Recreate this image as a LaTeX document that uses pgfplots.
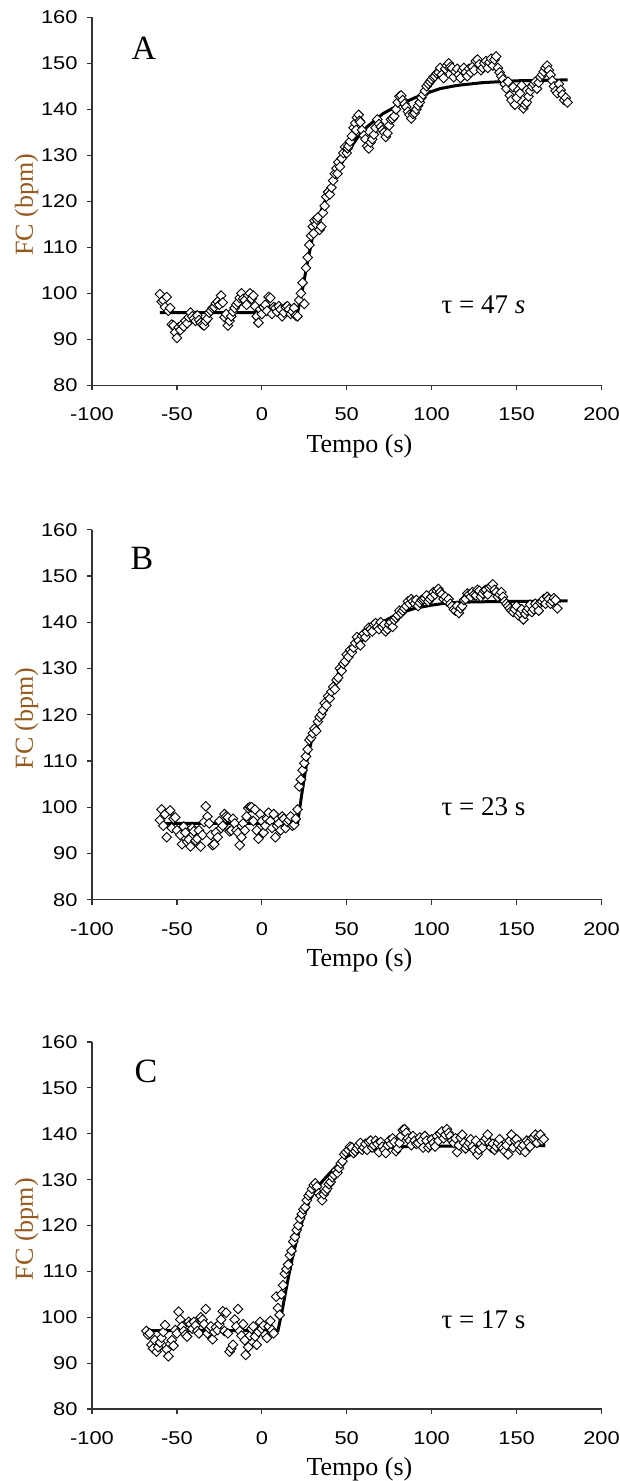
\documentclass[border=0pt]{standalone}
\usepackage{fontspec}
\setmainfont{Liberation Serif}
\newfontfamily\ticksfont{Liberation Sans}[FakeStretch=1.18]
\usepackage{pgfplots}
\pgfplotsset{compat=1.18}
\definecolor{fccol}{RGB}{150,90,30}

\pgfplotsset{
  panel/.style={
    scale only axis, width=509.5pt,
    xmin=-100, xmax=200, ymin=80, ymax=160,
    axis lines=left,
    axis line style={-, line width=1.2pt, color=black!80},
    xtick={-100,-50,0,50,100,150,200}, ytick={80,90,100,110,120,130,140,150,160},
    xticklabels={-100,-50,0,50,100,150,200},
    yticklabels={80,90,100,110,120,130,140,150,160},
    tick align=outside, major tick length=5pt,
    tick style={line width=1.2pt, black!80},
    ticklabel style={font=\ticksfont\fontsize{18.5}{18.5}\selectfont},
    xticklabel style={yshift=-14pt},
    yticklabel style={xshift=-6pt},
    clip=false,
    anchor=south west,
  },
  pts/.style={only marks, mark=square*, mark size=3.4pt,
    mark options={rotate=45, fill=white, draw=black, line width=0.9pt}},
  fit/.style={no marks, line width=3pt, black},
}
\newcommand{\panellabels}[5]{%
  \node[font=\fontsize{26}{26}\selectfont, anchor=base] at ([yshift=-66.7pt]axis description cs:0.525,0) {Tempo (s)};
  \node[font=\fontsize{26}{26}\selectfont, anchor=base, rotate=90, text=fccol] at ([xshift=-59pt]axis description cs:0,0.49) {FC (bpm)};
  \node[font=\fontsize{34}{34}\selectfont, inner sep=0pt] at (axis cs:#1,#2) {#3};
  \node[font=\fontsize{27}{27}\selectfont, inner sep=0pt] at (axis cs:130.5,#4) {#5};
}

\begin{document}
\begin{tikzpicture}
\path[use as bounding box] (0pt,0pt) rectangle (619pt,-1481pt);

% ---------------- Panel A ----------------
\begin{axis}[panel, height=368pt, at={(92pt,-385.3pt)}]
\addplot[pts] coordinates {
(-60,99.8) (-59,98.2) (-58,98.5) (-57,97.0) (-56,99.2) (-55,96.2) (-54,96.8) (-53,93.2) (-52,93.0) (-51,91.5) (-50,90.3)
(-49,92.6) (-48,92.0) (-47,93.2) (-46,92.8) (-45,94.0) (-44,93.5) (-43,94.8) (-42,95.8) (-41,95.0) (-40,94.5) (-39,94.0)
(-38,95.2) (-37,94.2) (-36,93.6) (-35,93.2) (-34,93.0) (-33,94.0) (-32,94.5) (-31,95.8) (-30,96.2) (-29,96.8) (-28,97.0)
(-27,97.8) (-26,98.2) (-25,97.5) (-24,99.5) (-23,98.0) (-22,94.8) (-21,95.5) (-20,93.0) (-19,94.0) (-18,95.0) (-17,96.0)
(-16,96.8) (-15,97.5) (-14,98.0) (-13,99.0) (-12,100.0) (-11,98.8) (-10,98.5) (-9,97.5) (-8,99.6) (-7,100.0)
(-6,98.8) (-5,99.5) (-4,97.2) (-3,95.0) (-2,93.6) (-1,96.5) (0,95.5) (1,97.0) (2,97.5) (3,96.2) (4,99.2) (5,99.0)
(6,95.5) (7,97.0) (8,96.8) (9,96.0) (10,97.2) (11,96.5) (12,95.0) (13,95.8) (14,97.0) (15,97.2) (16,96.5) (17,95.5)
(18,96.0) (19,96.8) (20,95.2) (21,95.0) (22,98.5) (23,100.0) (24,102.3) (25,97.7) (26,105.5) (27,107.8) (28,110.5)
(29,112.5) (30,114.5) (30.5,113.0) (31,115.8) (32,115.0) (32.5,116.0) (33,116.5) (34,113.8) (35,114.5) (36,117.5)
(37,119.0) (38,121.0) (39,122.0) (40,121.5) (41,123.0) (42,124.5) (43,126.0) (44,127.2) (44.5,126.0) (45,128.5)
(46,127.5) (47,129.3) (48,130.5) (49,131.8) (50,130.5) (50.5,131.5) (51,132.0) (52,133.0) (53,134.2) (54,136.0)
(55,137.0) (55.5,135.5) (56,138.2) (57,138.8) (57.5,137.5) (58,137.2) (59,135.5) (60,134.3) (61,133.5) (62,132.0)
(63,131.5) (64,132.8) (65,133.5) (66,134.5) (67,136.0) (68,137.8) (69,136.8) (70,136.2) (71,135.5) (72,135.0)
(73,134.0) (74,134.8) (75,136.5) (76,137.8) (77,138.0) (78,138.5) (79,140.0) (80,141.5) (81,142.8) (82,143.0)
(83,142.0) (84,141.2) (85,140.5) (86,139.5) (87,138.8) (88,138.0) (89,139.0) (90,139.2) (91,140.0) (92,140.8)
(93,141.5) (94,142.5) (95,143.2) (96,144.0) (97,145.0) (98,145.5) (99,146.0) (100,146.5) (101,147.0) (102,147.2)
(103,147.8) (104,148.0) (105,149.0) (106,147.5) (107,146.8) (108,148.8) (109,149.5) (110,150.0) (111,149.2)
(112,149.0) (113,147.0) (114,148.2) (115,148.8) (116,147.5) (117,146.8) (118,148.5) (119,149.0) (120,148.0)
(121,147.2) (122,148.8) (123,148.0) (124,149.2) (125,148.5) (126,150.5) (127,150.8) (128,149.8) (129,148.5)
(130,149.0) (131,150.0) (132,150.5) (133,149.0) (134,150.2) (135,151.0) (136,149.5) (137,150.8) (138,151.5)
(139,149.0) (140,148.0) (141,147.2) (142,146.5) (143,145.5) (144,144.5) (145,146.0) (146,143.0) (147,142.0)
(148,144.8) (149,141.0) (150,142.5) (151,144.2) (152,143.5) (153,145.2) (154,140.2) (155,141.0) (156,141.5)
(157,142.8) (158,144.0) (159,145.0) (160,145.5) (161,146.0) (162,144.5) (163,145.8) (164,147.0) (165,147.5)
(166,148.2) (167,149.0) (168,149.5) (169,148.5) (170,147.5) (171,146.2) (172,145.0) (173,144.0) (174,143.5)
(175,145.5) (176,144.2) (177,143.2) (178,142.0) (179,142.5) (180,141.5)
};
\addplot[fit] coordinates {
(-60,95.8) (21,95.8) (24,101) (27,107) (30,112.5) (33,116) (36,119) (39,121.5) (42,124.3) (45,126.8) (48,129)
(52,131.5) (56,133.7) (62,136.2) (71.5,139.1) (80,140.8) (90,142.5) (97,143.5) (105,144.5) (115,145.2)
(130,145.8) (150,146.2) (180,146.4)
};
\panellabels{-69.4}{153.3}{A}{97.5}{τ = 47 \textit{s}}
\end{axis}

% ---------------- Panel B ----------------
\begin{axis}[panel, height=370pt, at={(92pt,-899.7pt)}]
\addplot[pts] coordinates {
(-60,97.2) (-59,99.5) (-58,96.0) (-57,98.5) (-56,93.5) (-54,99.3) (-53,95.5) (-52,97.5) (-51,97.8) (-50,95.0)
(-48,94.0) (-47,92.0) (-46,95.8) (-45,94.5) (-44,92.5) (-43,93.0) (-42,91.5) (-41,95.5) (-40,94.8) (-39,92.8)
(-38,93.2) (-37,95.0) (-36,91.5) (-35,94.0) (-34,96.8) (-33,100.2) (-32,98.0) (-31,96.5) (-30,94.0) (-29,91.8)
(-28,92.0) (-27,94.5) (-26,93.5) (-25,97.0) (-24,95.5) (-23,96.0) (-22,98.5) (-21,98.0) (-20,97.8) (-19,94.8)
(-18,95.0) (-17,97.5) (-16,96.5) (-15,95.0) (-14,94.5) (-13,91.8) (-12,93.5) (-11,96.5) (-10,95.0) (-9,98.0)
(-8,99.8) (-7,100.0) (-6,100.0) (-5,97.0) (-4,99.5) (-3,95.0) (-2,93.2) (-1,98.5) (0,97.0) (1,94.5) (2,96.0)
(3,97.5) (4,98.8) (5,97.0) (6,95.5) (7,98.5) (8,93.5) (9,96.0) (10,96.5) (11,95.0) (12,98.0) (13,97.5) (14,95.5)
(15,96.8) (16,97.2) (17,98.0) (18,96.0) (19,96.2) (20,97.5) (21,99.5) (22,104.5) (23,106.0) (24,108.0) (25,109.5)
(26,111.0) (27,112.5) (28,114.5) (29,115.0) (30,116.0) (31,117.0) (32,116.5) (33,118.5) (34,119.5) (35,120.0)
(36,121.0) (37,122.5) (38,122.0) (39,124.0) (40,123.5) (41,125.0) (42,126.0) (43,125.5) (44,127.5) (45,128.0)
(46,130.0) (47,129.5) (48,131.0) (49,131.5) (50,133.0) (51,132.5) (52,134.0) (53,133.5) (54,134.5) (55,135.5)
(56,136.8) (57,136.0) (58,135.0) (59,137.0) (60,137.5) (61,136.8) (62,138.0) (63,138.8) (64,138.5) (65,138.0)
(66,139.5) (67,139.8) (68,139.0) (69,138.5) (70,140.0) (71,139.0) (72,139.5) (73,138.0) (74,138.5) (75,139.5)
(76,140.0) (77,139.0) (78,140.5) (79,141.0) (80,141.5) (81,142.5) (82,142.0) (83,142.5) (84,143.0) (85,143.5)
(86,144.5) (87,144.0) (88,145.0) (89,144.5) (90,144.0) (91,144.8) (92,143.5) (93,144.2) (94,144.8) (95,145.0)
(96,145.2) (97,145.8) (98,144.5) (99,145.0) (100,145.5) (101,146.5) (102,146.0) (103,146.8) (104,147.2)
(105,146.5) (106,146.0) (107,145.0) (108,145.5) (109,144.5) (110,145.0) (111,144.0) (112,143.5) (113,142.8)
(114,142.5) (115,143.5) (116,142.0) (117,143.0) (118,143.5) (119,144.8) (120,145.0) (121,146.2) (122,146.0)
(123,145.5) (124,146.5) (125,146.0) (126,145.8) (127,147.0) (128,146.8) (129,145.5) (130,146.2) (131,146.8)
(132,147.0) (133,146.0) (134,147.5) (135,147.8) (136,148.2) (137,147.0) (138,146.5) (139,145.5) (140,146.0)
(141,146.5) (142,145.5) (143,144.5) (144,144.0) (145,143.5) (146,143.0) (147,142.5) (148,142.2) (149,142.8)
(150,143.5) (151,141.5) (152,142.0) (153,142.8) (154,140.6) (155,141.8) (156,142.5) (157,143.0) (158,143.8)
(159,142.2) (160,142.8) (161,144.0) (162,143.5) (163,142.5) (164,144.2) (165,144.5) (166,145.0) (167,144.0)
(168,145.5) (169,145.0) (170,144.0) (171,144.5) (172,145.2) (173,144.8) (174,143.0)
};
\addplot[fit] coordinates {
(-60,96.5) (21,96.5) (24,104) (27,111) (30,115.5) (34,120) (38,123.2) (42,126.5) (46,129.7) (50,132) (54,134)
(58,136.2) (64,138.3) (70,139.8) (80,141.8) (90,143) (100,143.7) (110,144.2) (125,144.4) (150,144.5) (180,144.6)
};
\panellabels{-70.6}{153.9}{B}{100.2}{τ = 23 s}
\end{axis}

% ---------------- Panel C ----------------
\begin{axis}[panel, height=367pt, at={(92pt,-1409pt)}]
\addplot[pts] coordinates {
(-68,97.0) (-67,96.2) (-66,96.5) (-65,94.0) (-64,93.2) (-63,95.0) (-62,92.5) (-61,93.5) (-60,94.5) (-59,95.5)
(-58,96.8) (-57,98.3) (-56,93.0) (-55,91.5) (-54,94.2) (-53,95.0) (-52,93.8) (-51,97.2) (-50,96.5) (-49,101.2)
(-48,99.5) (-47,98.0) (-46,97.0) (-45,96.2) (-44,95.8) (-43,99.0) (-42,98.5) (-41,97.5) (-40,99.0) (-39,98.2)
(-38,97.0) (-37,96.5) (-36,100.0) (-35,99.5) (-34,98.5) (-33,101.8) (-32,96.5) (-31,97.5) (-30,98.0) (-29,95.2)
(-28,96.8) (-27,97.8) (-26,97.2) (-25,98.5) (-24,99.5) (-23,101.3) (-22,97.0) (-21,101.0) (-20,96.5) (-19,92.5)
(-18,93.2) (-17,94.0) (-16,99.5) (-15,98.0) (-14,101.8) (-13,97.0) (-12,96.0) (-11,98.5) (-10,95.0) (-9.5,91.8)
(-8,93.5) (-7,96.0) (-6,97.5) (-5,98.0) (-4,95.8) (-3,94.0) (-2,96.8) (-1,99.0) (0,97.5) (1,98.2) (2,96.2)
(3,95.5) (4,98.0) (5,99.2) (6,97.2) (7,96.5) (8.5,104.5) (9.5,102.0) (10.5,100.5) (11.5,105.0) (12.5,107.0)
(13.5,109.5) (14.5,110.5) (15.5,111.5) (16.5,113.5) (17.5,114.5) (18.5,116.5) (19.5,117.5) (20.5,119.0)
(21.5,120.0) (22.5,121.5) (23.5,122.5) (24.5,123.5) (25.5,124.0) (26.5,125.5) (27.5,126.5) (28.5,127.0)
(29.5,128.0) (30.5,128.8) (31.5,129.2) (32.5,128.5) (33.5,127.0) (34.5,126.5) (35.5,125.5) (36.5,126.8)
(37.5,127.5) (38.5,128.0) (39.5,129.0) (40.5,129.5) (41.5,130.5) (42.5,131.0) (43.5,132.0) (44.5,131.5)
(45.5,132.5) (46.5,133.5) (47.5,134.0) (48.5,135.5) (49.5,136.0) (51,136.5) (52,137.2) (53,137.0) (54,135.8)
(55,136.2) (56,136.8) (57,137.5) (58,138.0) (59,136.5) (60,137.0) (61,137.8) (62,136.5) (63,138.2) (64,138.5)
(65,137.0) (66,137.5) (67,138.5) (68,137.8) (69,136.0) (70,138.2) (71,137.2) (72,136.5) (73,135.8) (74,137.5)
(75,138.5) (76,137.8) (77,139.0) (78,138.2) (79,136.2) (80,136.8) (81,138.0) (82,139.5) (83,140.8) (84,141.0)
(85,140.2) (86,139.0) (87,138.5) (88,137.5) (89,139.5) (90,138.5) (91,137.8) (92,138.0) (93,139.2) (94,138.5)
(95,137.0) (96,139.5) (97,138.5) (98,137.0) (99,137.5) (100,138.8) (101,138.0) (102,137.2) (103,139.5)
(104,138.5) (105,140.0) (106,140.5) (107,139.0) (108,139.8) (109,141.0) (110,140.2) (111,139.5) (112,138.5)
(113,138.0) (114,139.0) (115,136.0) (116,137.5) (117,139.2) (118,139.8) (119,138.0) (120,136.8) (121,137.5)
(122,138.0) (123,138.8) (124,137.2) (125,136.5) (126,138.5) (127,135.5) (128,136.5) (129,137.8) (130,137.0)
(131,138.5) (132,139.0) (133,139.8) (134,138.0) (135,137.0) (136,137.8) (137,136.5) (138,137.2) (139,138.0)
(140,138.8) (141,137.2) (142,136.8) (143,136.2) (144,137.5) (145,135.5) (146,138.5) (147,139.8) (148,137.0)
(149,138.5) (150,138.8) (151,137.5) (152,136.5) (153,137.0) (154,137.5) (155,136.0) (156,138.5) (157,138.0)
(158,137.2) (159,139.0) (160,139.2) (161,139.8) (162,138.0) (163,139.5) (164,139.8) (165,138.5) (166,138.8)
};
\addplot[fit] coordinates {
(-68.5,97.1) (9.5,97.1) (12,101.5) (15,107.5) (18,113) (21,117.5) (24,121.2) (28,125.5) (32,128) (36,129.8)
(40,131.4) (45,133.3) (50,135) (55,136) (60,136.5) (70,136.9) (85,137.2) (110,137.3) (167,137.4)
};
\panellabels{-68.2}{153.6}{C}{99.5}{τ = 17 s}
\end{axis}
\end{tikzpicture}
\end{document}
